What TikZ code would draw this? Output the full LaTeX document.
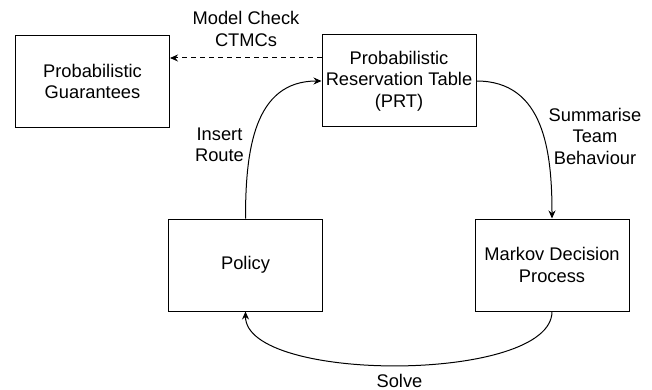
\documentclass[tikz,border=0pt]{standalone}
\usepackage{fontspec}
\setmainfont{Liberation Sans}
\usepackage{tikz}
\usetikzlibrary{arrows.meta}

\tikzset{
  block/.style={draw, line width=1pt, minimum width=154pt, minimum height=92pt,
                align=center, inner sep=0pt, font=\fontsize{18.3}{21.5}\selectfont},
  lbl/.style={align=center, inner sep=0pt, font=\fontsize{18.3}{21.5}\selectfont},
  link/.style={line width=1pt, -{Stealth[length=8pt,width=7pt]}}
}

\begin{document}
\begin{tikzpicture}[x=1pt, y=-1pt]
  \useasboundingbox (0,0) rectangle (652,390);

  % boxes
  \node[block] (guar) at (92.5,81.5) {Probabilistic\\Guarantees};
  \node[block] (prt) at (399,81) {Probabilistic\\Reservation Table\\(PRT)};
  \node[block] (policy) at (245.5,265) {Policy};
  \node[block] (mdp) at (552,265) {Markov Decision\\Process};

  % labels
  \node[lbl] (check) at (246,29) {Model Check\\CTMCs};
  \node[lbl] (insert) at (219.5,145) {Insert\\Route};
  \node[lbl] (summ) at (595,136) {Summarise\\Team\\Behaviour};
  \node[lbl] (solve) at (399.5,381) {Solve};

  % connectors
  \draw[link, dashed, dash pattern=on 5pt off 4pt] (prt.west |- 0,58) -- (guar.east |- 0,58);
  \draw[link] (policy.north) to[out=90, in=180, looseness=1.1] (prt.west);
  \draw[link] (prt.east) to[out=0, in=90, looseness=1.1] (mdp.north);
  \draw[link] (mdp.south) to[out=-90, in=-90, looseness=0.6] (policy.south);
\end{tikzpicture}
\end{document}
